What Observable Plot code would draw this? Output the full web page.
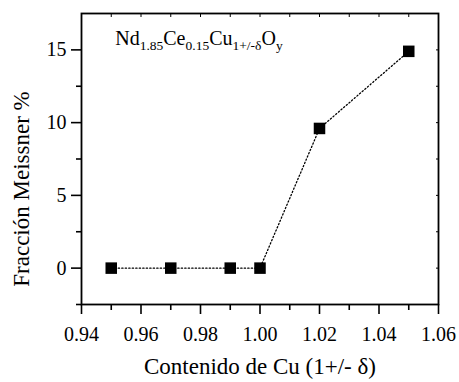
<!DOCTYPE html>
<html><head><meta charset="utf-8">
<script src="https://cdn.jsdelivr.net/npm/d3@7"></script>
<script src="https://cdn.jsdelivr.net/npm/@observablehq/plot@0.6"></script>
<style>body{margin:0;background:#fff;}</style>
</head><body><div id="chart"></div>
<script>
const cuContent = [0.95, 0.97, 0.99, 1.00, 1.02, 1.05];
const meissner = [0, 0, 0, 0, 9.6, 14.9];
const xTicks = [0.94, 0.96, 0.98, 1.00, 1.02, 1.04, 1.06];
const xMinor = [0.95, 0.97, 0.99, 1.01, 1.03, 1.05];
const yTicks = [0, 5, 10, 15];
const yMinor = [-2.5, 2.5, 7.5, 12.5];
const xLabel = "Contenido de Cu (1+/- δ)";
const yLabel = "Fracción Meissner %";

const data = cuContent.map((x, i) => ({x, y: meissner[i]}));
const font = "Liberation Serif";
const fmtX = d3.format(".2f");
const none = () => "";

const plot = Plot.plot({
  width: 459, height: 382,
  marginLeft: 81, marginRight: 21, marginTop: 13, marginBottom: 78,
  style: {fontFamily: font, background: "#fff", color: "#000"},
  x: {domain: [0.94, 1.06]},
  y: {domain: [-2.5, 17.5]},
  marks: [
    Plot.axisX({ticks: xTicks, tickSize: 10, tickFormat: none, strokeWidth: 1.6, label: null}),
    Plot.axisX({ticks: xMinor, tickSize: 6, tickFormat: none, strokeWidth: 1.6, label: null}),
    Plot.axisX({anchor: "top", ticks: xTicks.concat(xMinor), tickSize: -3, tickFormat: none, strokeWidth: 1, label: null}),
    Plot.axisY({ticks: yTicks, tickSize: 10, tickFormat: none, strokeWidth: 1.6, label: null}),
    Plot.axisY({ticks: yMinor, tickSize: 5, tickFormat: none, strokeWidth: 1.6, label: null}),
    Plot.axisY({anchor: "right", ticks: yTicks.concat(yMinor), tickSize: -3, tickFormat: none, strokeWidth: 1, label: null}),
    Plot.text(xTicks, {x: d => d, text: d => fmtX(d), frameAnchor: "bottom", lineAnchor: "bottom", dy: 36, fontSize: 20, fontFamily: font, fill: "#000"}),
    Plot.text(yTicks, {y: d => d, text: d => String(d), frameAnchor: "left", textAnchor: "end", dx: -15, fontSize: 20, fontFamily: font, fill: "#000"}),
    Plot.frame({stroke: "#000", strokeWidth: 1.8}),
    Plot.line(data, {x: "x", y: "y", stroke: "#000", strokeWidth: 1.3, strokeDasharray: "1.3 2.2"}),
    Plot.dot(data, {x: "x", y: "y", symbol: "square", r: 6.5, fill: "#000", stroke: "none"}),
    Plot.text([xLabel], {text: d => d, frameAnchor: "bottom", dy: 69, fontSize: 23, fontFamily: font, fill: "#000"}),
    Plot.text([yLabel], {text: d => d, frameAnchor: "left", textAnchor: "middle", lineAnchor: "middle", dx: -60, dy: 30, rotate: -90, fontSize: 23, fontFamily: font, fill: "#000"})
  ]
});

const svg = d3.select(plot);
// Chemical formula annotation with subscripts, positioned through the plot's scales
const sx = plot.scale("x"), sy = plot.scale("y");
const t = svg.append("text")
  .attr("x", sx.apply(0.9515)).attr("y", sy.apply(15.3))
  .attr("text-anchor", "start").attr("font-family", font)
  .attr("font-size", 20).attr("fill", "#000");
const parts = [["Nd", false], ["1.85", true], ["Ce", false], ["0.15", true], ["Cu", false], ["1+/-δ", true], ["O", false], ["y", true]];
parts.forEach(([s, sub], i) => {
  const ts = t.append("tspan").text(s);
  if (sub) ts.attr("font-size", 13.5).attr("dy", 5);
  else if (i > 0) ts.attr("dy", -5);
});
document.getElementById("chart").appendChild(plot);
</script>
</body></html>
